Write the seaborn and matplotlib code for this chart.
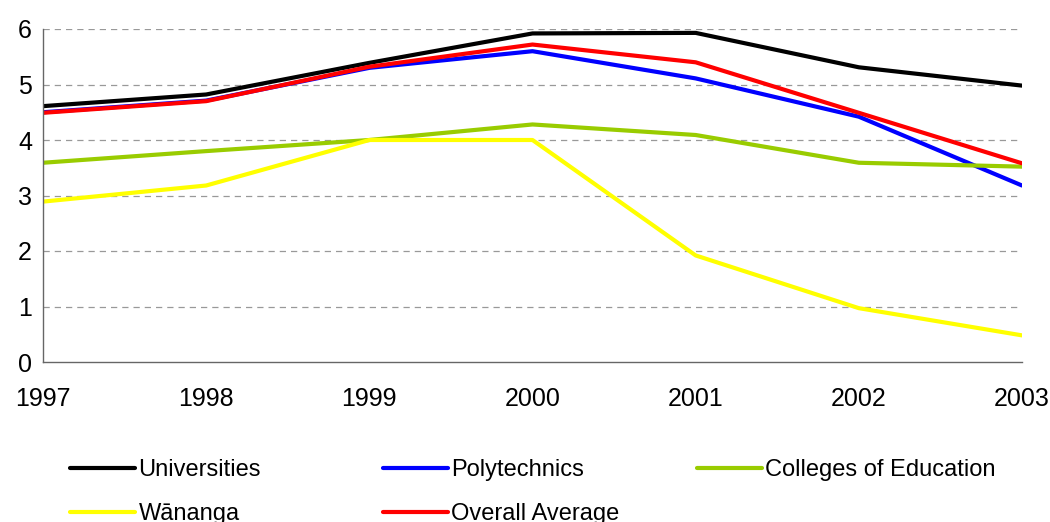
import pandas as pd
import matplotlib
matplotlib.use("Agg")
import matplotlib.pyplot as plt
import seaborn as sns

years = [1997, 1998, 1999, 2000, 2001, 2002, 2003]
universities = [4.61, 4.82, 5.39, 5.92, 5.93, 5.31, 4.98]
polytechnics = [4.50, 4.71, 5.30, 5.60, 5.11, 4.42, 3.18]
colleges = [3.59, 3.80, 4.00, 4.28, 4.09, 3.59, 3.52]
wananga = [2.89, 3.18, 4.00, 4.00, 1.92, 0.97, 0.48]
overall = [4.49, 4.70, 5.32, 5.72, 5.40, 4.49, 3.58]

series = {
    "Universities": universities,
    "Polytechnics": polytechnics,
    "Colleges of Education": colleges,
    "Wānanga": wananga,
    "Overall Average": overall,
}
colors = {
    "Universities": "#000000",
    "Polytechnics": "#0000ff",
    "Colleges of Education": "#99cc00",
    "Wānanga": "#ffff00",
    "Overall Average": "#ff0000",
}

df = pd.concat(
    [pd.DataFrame({"year": years, "value": v, "group": k}) for k, v in series.items()]
)

sns.set_style("white")
plt.rcParams["font.family"] = ["Liberation Sans", "DejaVu Sans"]
plt.rcParams["text.color"] = "black"

fig = plt.figure(figsize=(10.5, 5.22), dpi=100)
ax = fig.add_axes([43 / 1050, 1 - 362 / 522, (1022 - 43) / 1050, (362 - 29) / 522])

sns.lineplot(data=df, x="year", y="value", hue="group", palette=colors,
             hue_order=list(series.keys()), linewidth=3, ax=ax, legend=True)

ax.set_xlim(1997, 2003)
ax.set_ylim(0, 6)
ax.set_xticks(years)
ax.set_yticks(range(0, 7))
ax.set_xlabel("")
ax.set_ylabel("")
for y in range(1, 7):
    ax.axhline(y, color="#999999", linestyle=(0, (5, 4)), linewidth=0.9, zorder=0)
for s in ["top", "right"]:
    ax.spines[s].set_visible(False)
for s in ["left", "bottom"]:
    ax.spines[s].set_color("#666666")
    ax.spines[s].set_linewidth(1)
ax.tick_params(axis="both", direction="out", length=5, width=1, color="#666666",
               labelsize=18, labelcolor="black", pad=3)
ax.tick_params(axis="x", pad=13)

handles, labels = ax.get_legend_handles_labels()
ax.get_legend().remove()

# one legend per column, columns evenly spaced like the original
columns = [[0, 3], [1, 4], [2]]
col_x = [70, 383, 697]
for idx, x in zip(columns, col_x):
    leg = fig.legend([handles[i] for i in idx], [labels[i] for i in idx],
                     loc="upper left", bbox_to_anchor=(x / 1050, 1 - 459 / 522),
                     frameon=False, fontsize=17, handlelength=2.75,
                     handletextpad=0.15, labelspacing=0.95, borderpad=0,
                     borderaxespad=0, labelcolor="black")
    for line in leg.get_lines():
        line.set_linewidth(3)

fig.savefig("out.png", dpi=100)
